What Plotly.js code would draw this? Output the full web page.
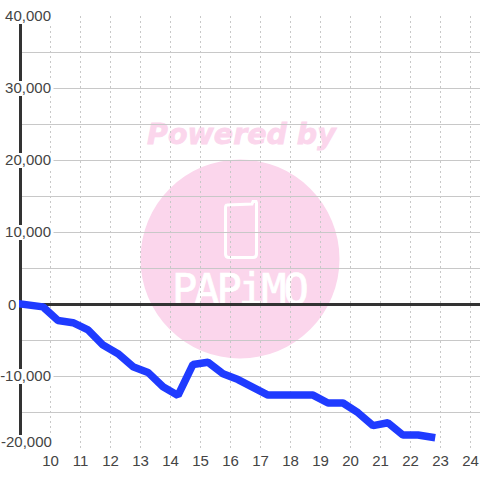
<!DOCTYPE html>
<html><head><meta charset="utf-8">
<script src="https://cdn.plot.ly/plotly-3.0.1.min.js"></script>
<style>html,body{margin:0;padding:0;background:#fff}.js-line{stroke-linecap:square;stroke-linejoin:bevel !important}</style>
</head><body><div id="c" style="width:480px;height:480px"></div>
<script>
var hours=[9,9.75,10.25,10.75,11.25,11.75,12.25,12.75,13.25,13.75,14.25,14.75,15.25,15.75,16.25,16.75,17.25,17.75,18.25,18.75,19.25,19.75,20.25,20.75,21.25,21.75,22.25,22.7];
var values=[0,-400,-2300,-2600,-3600,-5700,-6900,-8700,-9500,-11500,-12700,-8400,-8100,-9700,-10500,-11700,-12650,-12650,-12650,-12650,-13750,-13750,-15100,-16900,-16500,-18200,-18200,-18500];
var yTicks=[-20000,-15000,-10000,-5000,0,5000,10000,15000,20000,25000,30000,35000,40000];
var yLabels=['','','-10,000','','','','10,000','','20,000','','30,000','','40,000'];
var xTicks=[10,11,12,13,14,15,16,17,18,19,20,21,22,23,24];
var maskRows=[40000,30000,20000,10000,-10000];
var fontFam='"Liberation Sans",Arial,sans-serif';
function X(p){return (p-19)/461;} function Y(p){return (448-p)/432;}
var shapes=[
 {type:'circle',xref:'paper',yref:'paper',x0:X(140.5),x1:X(339.5),y0:Y(358.5),y1:Y(159.5),fillcolor:'#fbd6ec',line:{width:0},layer:'below'}
];
var phone=[['M',227,205],['L',252,204],['L',253,201.5],['L',256,201.5],['L',256.5,203],['L',256.5,254],['Q',256.5,257.5,253,257.5],['L',229,257.5],['Q',225.5,257.5,225.5,254],['L',225.5,208],['Q',225.5,205,227,205]];
var phonePath=phone.map(function(s){var o=s[0];for(var i=1;i<s.length;i+=2){o+=(i>1?',':'')+X(s[i])+','+Y(s[i+1]);}return o;}).join(' ')+' Z';
shapes.push({type:'path',xref:'paper',yref:'paper',path:phonePath,line:{color:'#fff',width:3},fillcolor:'rgba(0,0,0,0)',layer:'below'});
shapes.push({type:'line',xref:'x',yref:'y',layer:'between',x0:9,x1:9,y0:-20000,y1:40000,line:{color:'#333',width:3}});
maskRows.forEach(function(v){shapes.push({type:'rect',layer:'between',xref:'x',yref:'y',xsizemode:'pixel',ysizemode:'pixel',xanchor:9,yanchor:v,x0:-17,x1:33,y0:-8,y1:7,fillcolor:'#fff',line:{width:0}});});
shapes.push({type:'rect',layer:'between',xref:'x',yref:'y',xsizemode:'pixel',ysizemode:'pixel',xanchor:9,yanchor:-20000,x0:-17,x1:33,y0:-2,y1:13,fillcolor:'#fff',line:{width:0}});
var annotations=[
 {xref:'paper',yref:'paper',x:X(242),y:Y(116),text:'Powered by',showarrow:false,font:{family:'"DejaVu Sans"',size:28.5,color:'#fbd6ec',weight:'bold',style:'italic'}},
 {xref:'paper',yref:'paper',x:X(239),y:Y(289),text:'PAPiMO',showarrow:false,font:{family:'"DejaVu Sans Mono"',size:42,color:'#fff'}},
 {xref:'x',yref:'y',x:9,y:-20000,xanchor:'right',xshift:32,yshift:7,text:'-20,000',showarrow:false,font:{family:fontFam,size:15,color:'#444'},borderpad:0},
 {xref:'x',yref:'y',x:9,y:0,xanchor:'center',xshift:-8.5,yshift:0,text:'0',showarrow:false,font:{family:fontFam,size:15,color:'#444'},borderpad:0}
];
var data=[{type:'scatter',mode:'lines',x:hours,y:values,line:{color:'#1f3bff',width:7.5,shape:'linear'},cliponaxis:false,hoverinfo:'skip'}];
var layout={width:480,height:480,margin:{l:19,r:0,t:16,b:32,pad:0},showlegend:false,paper_bgcolor:'#fff',plot_bgcolor:'rgba(0,0,0,0)',
 xaxis:{range:[8.95,24.3167],tickmode:'array',tickvals:xTicks,ticktext:xTicks.map(String),showgrid:true,gridcolor:'#c8c8c8',gridwidth:1,griddash:'2px,3px',zeroline:false,showline:false,ticks:'',ticklen:0,tickangle:0,ticklabelstandoff:2,tickfont:{family:fontFam,size:15,color:'#444'}},
 yaxis:{range:[-20000,40000],tickmode:'array',tickvals:yTicks,ticktext:yLabels,showgrid:true,gridcolor:'#c8c8c8',gridwidth:1,zeroline:true,zerolinecolor:'#333',zerolinewidth:3,showline:false,ticks:'',ticklen:0,ticklabelstandoff:-33,tickfont:{family:fontFam,size:15,color:'#444'}},
 shapes:shapes,annotations:annotations};
Plotly.newPlot('c',data,layout,{displayModeBar:false,staticPlot:true}).then(function(gd){
 var below=gd.querySelector('.layer-below');
 var anns=gd.querySelectorAll('.annotation');
 anns[0].querySelectorAll('text').forEach(function(t){t.style.stroke='#fbd6ec';t.style.strokeWidth='0.8px';});
 anns[1].querySelectorAll('text').forEach(function(t){t.style.letterSpacing='-3px';t.style.stroke='#fff';t.style.strokeWidth='0.7px';});
 below.appendChild(anns[0]); below.appendChild(anns[1]);
});
</script></body></html>
